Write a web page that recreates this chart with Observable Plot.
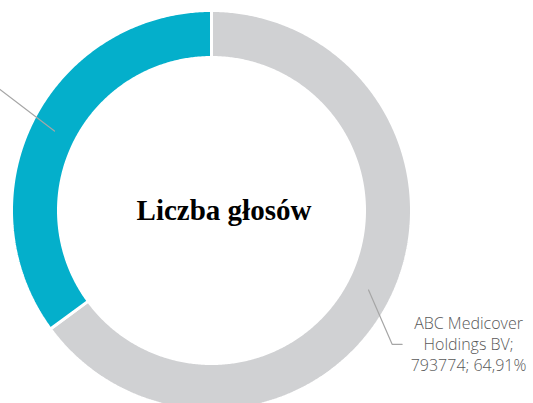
<!DOCTYPE html>
<html><head><meta charset="utf-8">
<script src="https://cdn.jsdelivr.net/npm/d3@7"></script>
<script src="https://cdn.jsdelivr.net/npm/@observablehq/plot@0.6"></script>
<style>
html,body{margin:0;padding:0;background:#fff;overflow:hidden}
</style></head>
<body><div id="chart"></div>
<script>
const names = ["ABC Medicover Holdings BV", "Pozostali akcjonariusze"];
const votes = [793774, 429110];
const shares = ["64,91%", "35,09%"];
const colors = ["#d0d1d3", "#04afcb"];
const title = "Liczba głosów";

const W = 533, H = 403, cx = 211, cy = 210, R = 200;
const rOut = 1, rIn = 0.765;
const total = d3.sum(votes);
let acc = 0;
const slices = votes.map((v, i) => {
  const a0 = acc / total * 2 * Math.PI; acc += v;
  const a1 = acc / total * 2 * Math.PI;
  return {name: names[i], value: v, share: shares[i], color: colors[i], a0, a1};
});
const poly = [];
slices.forEach((s, i) => {
  const n = Math.max(8, Math.ceil((s.a1 - s.a0) / (Math.PI / 360)));
  for (let k = 0; k <= n; k++) { const a = s.a0 + (s.a1 - s.a0) * k / n; poly.push({i, x: rOut * Math.sin(a), y: rOut * Math.cos(a)}); }
  for (let k = n; k >= 0; k--) { const a = s.a0 + (s.a1 - s.a0) * k / n; poly.push({i, x: rIn * Math.sin(a), y: rIn * Math.cos(a)}); }
  poly.push({i, x: rOut * Math.sin(s.a0), y: rOut * Math.cos(s.a0)});
});
// leader lines from mid-ring at slice mid-angle
const rMid = 0.88;
const leaders = [];
slices.forEach((s, i) => {
  const m = (s.a0 + s.a1) / 2;
  const p0 = {x: rMid * Math.sin(m), y: rMid * Math.cos(m)};
  if (i === 0) {
    leaders.push({i, ...p0}, {i, x: p0.x + 0.118, y: p0.y - 0.272}, {i, x: p0.x + 0.168, y: p0.y - 0.272});
  } else {
    leaders.push({i, ...p0}, {i, x: p0.x - 0.40, y: p0.y + 0.305});
  }
});
const lab = slices[0];
const m0 = (lab.a0 + lab.a1) / 2;
const lx = rMid * Math.sin(m0) + 0.5, ly = rMid * Math.cos(m0) - 0.272;
const labelLines = [
  {t: "ABC Medicover", dy: 0.1},
  {t: "Holdings BV;", dy: -0.005},
  {t: lab.value + "; " + lab.share, dy: -0.11}
].map(d => ({...d, x: lx, y: ly + d.dy}));

const chart = Plot.plot({
  width: W, height: H,
  margin: 0,
  x: {domain: [-cx / R, (W - cx) / R], range: [0, W], axis: null},
  y: {domain: [-(H - cy) / R, cy / R], range: [H, 0], axis: null},
  marks: [
    Plot.line(poly, {x: "x", y: "y", z: "i", fill: d => colors[d.i], stroke: "#ffffff", strokeWidth: 3, strokeLinejoin: "miter", curve: "linear"}),
    Plot.line(leaders, {x: "x", y: "y", z: "i", stroke: "#a6a6a6", strokeWidth: 1.2}),
    Plot.text(labelLines, {x: "x", y: "y", text: "t", fontSize: 16, fill: "#595959", fontFamily: "Open Sans", fontWeight: 300, textAnchor: "middle"}),
    Plot.text([title], {x: 0.0625, y: 0, text: d => d, fontSize: 29, fontWeight: "bold", fontFamily: "Liberation Serif", fill: "#000"})
  ]
});
document.getElementById("chart").appendChild(chart);
</script></body></html>
